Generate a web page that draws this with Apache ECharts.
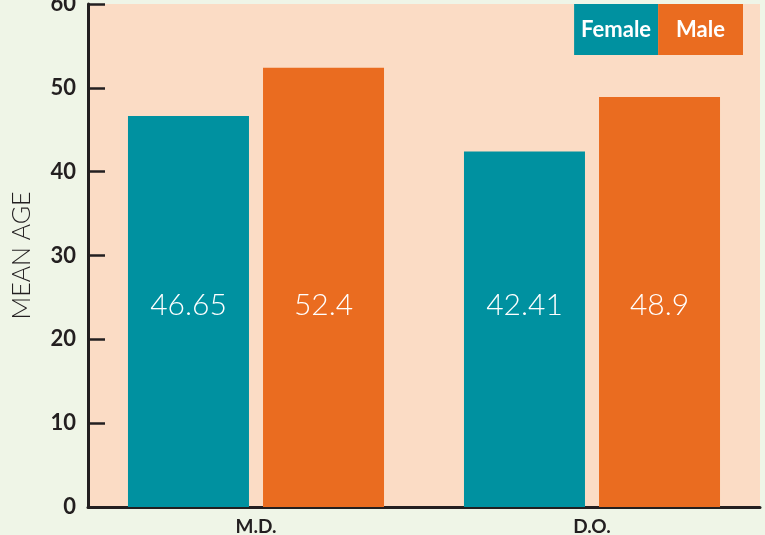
<!DOCTYPE html>
<html>
<head>
<meta charset="utf-8">
<script src="https://cdn.jsdelivr.net/npm/echarts@6/dist/echarts.min.js"></script>
<style>
  html, body { margin: 0; padding: 0; background: #eff5e7; }
  #chart { width: 765px; height: 535px; }
</style>
</head>
<body>
<div id="chart"></div>
<script>
// Mean age of physicians by degree and gender
const categories = ['M.D.', 'D.O.'];
const femaleAges = [46.65, 42.41];
const maleAges = [52.4, 48.9];
const yTicks = [0, 10, 20, 30, 40, 50, 60];

const INK = '#231f20';
const TEAL = '#0091a0';
const ORANGE = '#ea6c20';
const PEACH = '#fbdcc5';

const chart = echarts.init(document.getElementById('chart'), null, { renderer: 'canvas' });

const valueLabel = {
  show: true,
  position: 'insideBottom',
  distance: 187,
  color: '#ffffff',
  fontFamily: 'Lato',
  fontWeight: 300,
  fontSize: 30,
  formatter: p => String(p.value)
};

// Legend entries are drawn as solid colour tiles with the name in white
const legendText = (color, sidePad) => ({
  color: '#ffffff',
  fontFamily: 'Lato',
  fontWeight: 'bold',
  fontSize: 22,
  lineHeight: 25,
  padding: [13, sidePad, 13, sidePad],
  backgroundColor: color
});

chart.setOption({
  backgroundColor: '#eff5e7',
  animation: false,
  grid: {
    left: 88, right: 5, top: 4, bottom: 28,
    outerBoundsMode: 'none',
    containLabel: false,
    show: true, backgroundColor: PEACH, borderWidth: 0
  },
  legend: {
    right: 22, top: 4,
    itemWidth: 0, itemHeight: 0, itemGap: -5,
    icon: 'none',
    padding: 0,
    selectedMode: false,
    data: [
      { name: 'Female', textStyle: legendText(TEAL, 7) },
      { name: 'Male', textStyle: legendText(ORANGE, 18) }
    ]
  },
  xAxis: {
    type: 'category',
    data: categories,
    axisLine: { lineStyle: { color: INK, width: 3 } },
    axisTick: { inside: true, length: 14, lineStyle: { color: INK, width: 2.5 } },
    axisLabel: {
      color: INK, fontFamily: 'Lato', fontWeight: 'bold', fontSize: 19, margin: 10
    }
  },
  yAxis: {
    type: 'value',
    min: yTicks[0],
    max: yTicks[yTicks.length - 1],
    interval: yTicks[1] - yTicks[0],
    name: 'MEAN AGE',
    nameLocation: 'middle',
    nameGap: 54,
    nameTextStyle: { color: INK, fontFamily: 'Lato', fontWeight: 300, fontSize: 25 },
    axisLine: { show: true, lineStyle: { color: INK, width: 3 } },
    axisTick: { show: true, inside: true, length: 17, lineStyle: { color: INK, width: 2.5 } },
    axisLabel: {
      color: INK, fontFamily: 'Lato', fontWeight: 'bold', fontSize: 22, margin: 12
    },
    splitLine: { show: false }
  },
  series: [
    {
      name: 'Female',
      type: 'bar',
      data: femaleAges,
      itemStyle: { color: TEAL },
      barCategoryGap: '23.8%',
      barGap: '11.6%',
      label: valueLabel
    },
    {
      name: 'Male',
      type: 'bar',
      data: maleAges,
      itemStyle: { color: ORANGE },
      label: valueLabel
    }
  ]
});
</script>
</body>
</html>
